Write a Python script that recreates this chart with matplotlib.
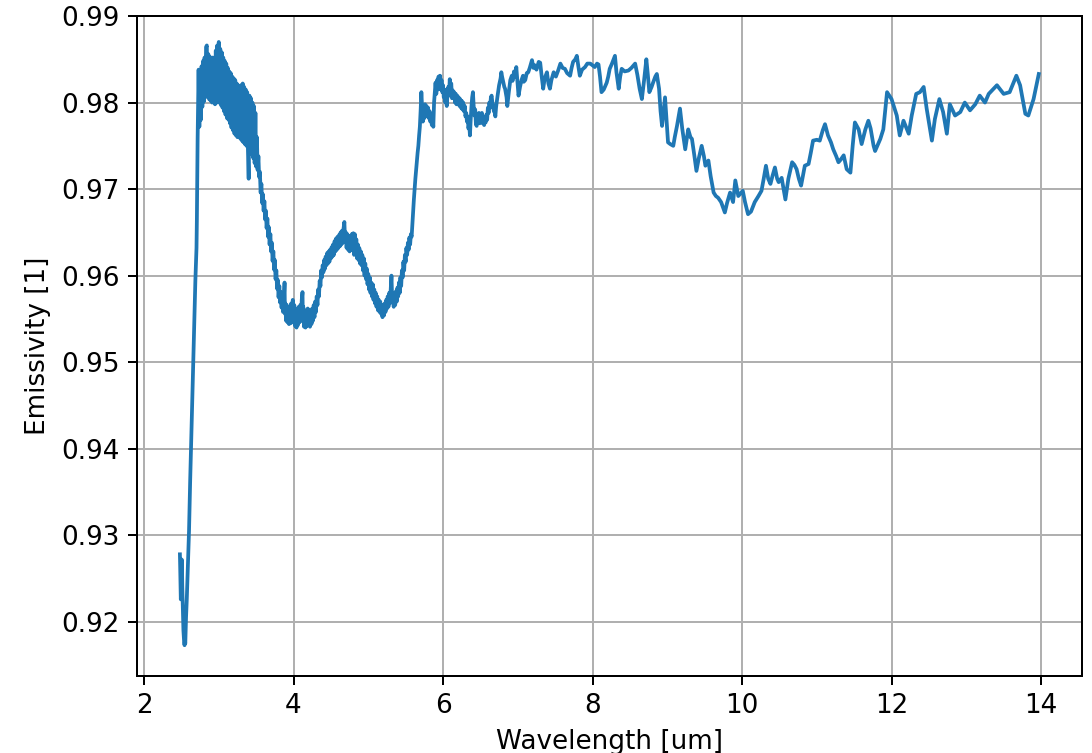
import matplotlib
matplotlib.use("Agg")
import matplotlib.pyplot as plt
import numpy as np

# Emissivity spectrum, split into wavelength ranges [um]
wl_rise = [2.480, 2.484, 2.488, 2.492, 2.496, 2.500, 2.504, 2.508, 2.512, 2.517,
           2.522, 2.527, 2.532, 2.537, 2.542, 2.547, 2.552, 2.557, 2.562, 2.567,
           2.572, 2.577, 2.582, 2.587, 2.592, 2.597, 2.602, 2.607, 2.612, 2.617,
           2.622, 2.627, 2.632, 2.637, 2.642, 2.647, 2.652, 2.657, 2.662, 2.667,
           2.672, 2.677, 2.682, 2.687, 2.692, 2.697, 2.702, 2.707, 2.712, 2.717,
           2.722, 2.726]
em_rise = [0.9278, 0.9262, 0.9240, 0.9226, 0.9232, 0.9255, 0.9272, 0.9262, 0.9240, 0.9222,
           0.9205, 0.9190, 0.9182, 0.9176, 0.9173, 0.9178, 0.9175, 0.9190, 0.9205, 0.9215,
           0.9226, 0.9240, 0.9255, 0.9268, 0.9280, 0.9292, 0.9305, 0.9325, 0.9345, 0.9362,
           0.9378, 0.9390, 0.9408, 0.9425, 0.9442, 0.9460, 0.9478, 0.9495, 0.9512, 0.9530,
           0.9548, 0.9565, 0.9580, 0.9595, 0.9608, 0.9620, 0.9632, 0.9665, 0.9712, 0.9758,
           0.9790, 0.9815]

wl_peak = [2.73, 2.74, 2.75, 2.76, 2.77, 2.78, 2.79, 2.80, 2.81, 2.82,
           2.83, 2.84, 2.85, 2.86, 2.87, 2.88, 2.89, 2.90, 2.91, 2.92,
           2.93, 2.94, 2.95, 2.96, 2.97, 2.98, 2.99, 3.00, 3.01, 3.02,
           3.03, 3.04, 3.05, 3.06, 3.07, 3.08, 3.09, 3.10, 3.11, 3.12,
           3.13, 3.14, 3.15, 3.16, 3.17, 3.18, 3.19, 3.20, 3.21, 3.22,
           3.23, 3.24, 3.25, 3.26, 3.27, 3.28, 3.29, 3.30, 3.31, 3.32,
           3.33, 3.34, 3.35, 3.36, 3.37, 3.38, 3.39, 3.40, 3.41, 3.42,
           3.43, 3.44, 3.45, 3.46, 3.47, 3.48, 3.49, 3.50, 3.51, 3.52]
em_peak = [0.9838, 0.9772, 0.9828, 0.9780, 0.9842, 0.9795, 0.9848, 0.9801, 0.9852, 0.9806,
           0.9864, 0.9866, 0.9808, 0.9856, 0.9804, 0.9853, 0.9802, 0.9850, 0.9800, 0.9852,
           0.9805, 0.9850, 0.9798, 0.9860, 0.9806, 0.9866, 0.9800, 0.9870, 0.9802, 0.9862,
           0.9797, 0.9858, 0.9794, 0.9852, 0.9790, 0.9848, 0.9786, 0.9845, 0.9782, 0.9840,
           0.9780, 0.9836, 0.9776, 0.9834, 0.9771, 0.9830, 0.9768, 0.9828, 0.9764, 0.9826,
           0.9762, 0.9822, 0.9760, 0.9820, 0.9762, 0.9818, 0.9758, 0.9820, 0.9756, 0.9822,
           0.9754, 0.9818, 0.9752, 0.9815, 0.9750, 0.9812, 0.9746, 0.9712, 0.9808, 0.9744,
           0.9805, 0.9740, 0.9800, 0.9736, 0.9796, 0.9730, 0.9788, 0.9726, 0.9760, 0.9722]

wl_trough = [3.53, 3.54, 3.55, 3.56, 3.57, 3.58, 3.59, 3.60, 3.61, 3.62,
             3.63, 3.64, 3.65, 3.66, 3.67, 3.68, 3.69, 3.70, 3.71, 3.72,
             3.73, 3.74, 3.75, 3.76, 3.77, 3.78, 3.79, 3.80, 3.81, 3.82,
             3.83, 3.84, 3.85, 3.86, 3.87, 3.88, 3.885, 3.89, 3.90, 3.91,
             3.92, 3.93, 3.94, 3.95, 3.96, 3.97, 3.98, 3.99, 4.00, 4.01,
             4.02, 4.03, 4.04, 4.05, 4.06, 4.07, 4.08, 4.09, 4.10, 4.11,
             4.12, 4.125, 4.13, 4.14, 4.15, 4.16, 4.17, 4.18, 4.19, 4.20,
             4.21, 4.22, 4.23, 4.24, 4.25, 4.26, 4.27, 4.28, 4.29, 4.30,
             4.31, 4.32, 4.33, 4.34, 4.35, 4.36, 4.37, 4.38, 4.39, 4.40,
             4.41, 4.42, 4.43, 4.44, 4.45, 4.46, 4.47, 4.48, 4.49, 4.50,
             4.51, 4.52, 4.53, 4.54, 4.55, 4.56, 4.57, 4.58, 4.59, 4.60,
             4.61, 4.62, 4.63, 4.64, 4.65, 4.66, 4.67, 4.68, 4.69, 4.70,
             4.71, 4.72, 4.73, 4.74, 4.75, 4.76, 4.77, 4.78, 4.79, 4.80,
             4.81, 4.82, 4.83, 4.84, 4.85, 4.86, 4.87, 4.88, 4.89, 4.90,
             4.91, 4.92, 4.93, 4.94, 4.95, 4.96, 4.97, 4.98, 4.99, 5.00,
             5.01, 5.02, 5.03, 5.04, 5.05, 5.06, 5.07, 5.08, 5.09, 5.10,
             5.11, 5.12, 5.13, 5.14, 5.15, 5.16, 5.17, 5.18, 5.19, 5.20,
             5.21, 5.22, 5.23, 5.24, 5.25, 5.26, 5.27, 5.28, 5.29, 5.30,
             5.31, 5.32, 5.33, 5.34, 5.35, 5.36, 5.37, 5.38, 5.39, 5.40,
             5.41, 5.42, 5.43, 5.44, 5.45, 5.46, 5.47, 5.48, 5.49, 5.50,
             5.51, 5.52, 5.53, 5.54, 5.55, 5.56, 5.57, 5.58, 5.59, 5.60,
             5.61, 5.62, 5.63, 5.64, 5.65, 5.66, 5.67, 5.68, 5.69, 5.70,
             5.71, 5.72]
em_trough = [0.9738, 0.9714, 0.9720, 0.9696, 0.9706, 0.9684, 0.9694, 0.9675, 0.9686, 0.9665,
             0.9675, 0.9655, 0.9666, 0.9645, 0.9656, 0.9636, 0.9648, 0.9628, 0.9638, 0.9617,
             0.9628, 0.9607, 0.9618, 0.9596, 0.9606, 0.9585, 0.9595, 0.9575, 0.9588, 0.9569,
             0.9581, 0.9563, 0.9575, 0.9558, 0.9572, 0.9592, 0.9556, 0.9568, 0.9548, 0.9566,
             0.9546, 0.9564, 0.9544, 0.9562, 0.9545, 0.9568, 0.9546, 0.9572, 0.9548, 0.9566,
             0.9542, 0.9562, 0.9540, 0.9560, 0.9543, 0.9564, 0.9546, 0.9566, 0.9548, 0.9572,
             0.9581, 0.9550, 0.9564, 0.9541, 0.9560, 0.9540, 0.9558, 0.9542, 0.9562, 0.9544,
             0.9560, 0.9541, 0.9558, 0.9544, 0.9562, 0.9548, 0.9566, 0.9552, 0.9570, 0.9558,
             0.9576, 0.9566, 0.9584, 0.9576, 0.9594, 0.9588, 0.9606, 0.9598, 0.9612, 0.9604,
             0.9618, 0.9608, 0.9622, 0.9612, 0.9626, 0.9614, 0.9628, 0.9616, 0.9630, 0.9620,
             0.9633, 0.9622, 0.9636, 0.9624, 0.9640, 0.9628, 0.9643, 0.9630, 0.9645, 0.9632,
             0.9647, 0.9634, 0.9650, 0.9636, 0.9652, 0.9638, 0.9655, 0.9662, 0.9640, 0.9650,
             0.9632, 0.9648, 0.9630, 0.9646, 0.9628, 0.9645, 0.9630, 0.9648, 0.9632, 0.9649,
             0.9624, 0.9648, 0.9628, 0.9642, 0.9620, 0.9636, 0.9618, 0.9632, 0.9614, 0.9628,
             0.9612, 0.9624, 0.9606, 0.9620, 0.9600, 0.9614, 0.9596, 0.9608, 0.9590, 0.9602,
             0.9584, 0.9598, 0.9580, 0.9592, 0.9576, 0.9590, 0.9572, 0.9584, 0.9568, 0.9580,
             0.9564, 0.9576, 0.9560, 0.9572, 0.9558, 0.9570, 0.9556, 0.9566, 0.9552, 0.9564,
             0.9554, 0.9568, 0.9558, 0.9572, 0.9562, 0.9576, 0.9564, 0.9580, 0.9568, 0.9584,
             0.9600, 0.9572, 0.9580, 0.9564, 0.9576, 0.9566, 0.9582, 0.9570, 0.9586, 0.9576,
             0.9592, 0.9580, 0.9598, 0.9588, 0.9606, 0.9598, 0.9616, 0.9606, 0.9624, 0.9616,
             0.9632, 0.9624, 0.9638, 0.9630, 0.9644, 0.9636, 0.9648, 0.9645, 0.9660, 0.9675,
             0.9688, 0.9700, 0.9712, 0.9722, 0.9732, 0.9742, 0.9750, 0.9762, 0.9772, 0.9790,
             0.9812, 0.9795]

wl_plateau = [5.73, 5.74, 5.75, 5.76, 5.77, 5.78, 5.79, 5.80, 5.81, 5.82,
              5.83, 5.84, 5.85, 5.86, 5.87, 5.88, 5.89, 5.90, 5.91, 5.92,
              5.93, 5.94, 5.95, 5.96, 5.97, 5.98, 5.99, 6.00, 6.01, 6.02,
              6.03, 6.04, 6.05, 6.06, 6.07, 6.08, 6.09, 6.10, 6.11, 6.12,
              6.13, 6.14, 6.15, 6.16, 6.17, 6.18, 6.19, 6.20, 6.21, 6.22,
              6.23, 6.24, 6.25, 6.26, 6.27, 6.28, 6.29, 6.30, 6.31, 6.32,
              6.33, 6.34, 6.35, 6.36, 6.37, 6.38, 6.39, 6.40, 6.41, 6.42,
              6.43, 6.44, 6.45, 6.46, 6.47, 6.48, 6.49, 6.50, 6.51, 6.52,
              6.53, 6.54, 6.55, 6.56, 6.57, 6.58, 6.59, 6.60, 6.61, 6.62,
              6.63, 6.64, 6.65, 6.66, 6.67, 6.68, 6.69, 6.70, 6.71, 6.72,
              6.73, 6.74, 6.75, 6.77, 6.78, 6.79, 6.80, 6.82, 6.83, 6.85,
              6.86, 6.88, 6.90, 6.92, 6.93, 6.95, 6.97, 6.98, 7.00, 7.01,
              7.03, 7.05, 7.07, 7.08, 7.10, 7.12, 7.14, 7.16, 7.19, 7.21,
              7.23, 7.25, 7.28, 7.30, 7.32, 7.34, 7.36, 7.39, 7.41, 7.43,
              7.45, 7.48, 7.51, 7.54, 7.57, 7.60, 7.63, 7.66, 7.70, 7.72,
              7.74, 7.77, 7.79, 7.81, 7.83, 7.86, 7.90, 7.93, 7.97, 8.00,
              8.03, 8.06, 8.08, 8.10, 8.12, 8.15, 8.19, 8.21, 8.23, 8.26,
              8.30, 8.32, 8.35, 8.37, 8.39, 8.43, 8.48, 8.52, 8.57, 8.60,
              8.63, 8.66, 8.69, 8.72, 8.74, 8.76, 8.79, 8.81, 8.84, 8.86,
              8.89]
em_plateau = [0.9778, 0.9790, 0.9782, 0.9798, 0.9786, 0.9796, 0.9784, 0.9794, 0.9782, 0.9790,
              0.9778, 0.9786, 0.9774, 0.9782, 0.9772, 0.9800, 0.9812, 0.9823, 0.9810, 0.9826,
              0.9815, 0.9830, 0.9818, 0.9831, 0.9815, 0.9826, 0.9812, 0.9820, 0.9806, 0.9815,
              0.9800, 0.9808, 0.9796, 0.9810, 0.9818, 0.9808, 0.9827, 0.9815, 0.9822, 0.9805,
              0.9814, 0.9806, 0.9812, 0.9800, 0.9810, 0.9798, 0.9808, 0.9802, 0.9806, 0.9796,
              0.9804, 0.9794, 0.9802, 0.9792, 0.9800, 0.9790, 0.9796, 0.9784, 0.9788, 0.9778,
              0.9784, 0.9770, 0.9776, 0.9762, 0.9780, 0.9795, 0.9806, 0.9812, 0.9796, 0.9785,
              0.9792, 0.9775, 0.9773, 0.9786, 0.9778, 0.9788, 0.9776, 0.9785, 0.9780, 0.9788,
              0.9776, 0.9784, 0.9774, 0.9782, 0.9777, 0.9786, 0.9780, 0.9794, 0.9788, 0.9800,
              0.9794, 0.9806, 0.9808, 0.9800, 0.9796, 0.9790, 0.9789, 0.9784, 0.9795, 0.9802,
              0.9808, 0.9814, 0.9820, 0.9828, 0.9835, 0.9830, 0.9826, 0.9818, 0.9816, 0.9806,
              0.9796, 0.9812, 0.9826, 0.9831, 0.9825, 0.9836, 0.9830, 0.9841, 0.9820, 0.9808,
              0.9818, 0.9826, 0.9831, 0.9824, 0.9826, 0.9834, 0.9835, 0.9840, 0.9849, 0.9840,
              0.9843, 0.9838, 0.9847, 0.9846, 0.9830, 0.9816, 0.9828, 0.9835, 0.9822, 0.9816,
              0.9826, 0.9835, 0.9830, 0.9837, 0.9845, 0.9840, 0.9839, 0.9834, 0.9831, 0.9840,
              0.9847, 0.9850, 0.9854, 0.9842, 0.9831, 0.9838, 0.9841, 0.9845, 0.9845, 0.9843,
              0.9841, 0.9845, 0.9844, 0.9830, 0.9812, 0.9815, 0.9823, 0.9830, 0.9839, 0.9845,
              0.9854, 0.9835, 0.9816, 0.9830, 0.9839, 0.9836, 0.9837, 0.9840, 0.9845, 0.9832,
              0.9816, 0.9804, 0.9826, 0.9850, 0.9832, 0.9812, 0.9818, 0.9823, 0.9830, 0.9833,
              0.9816]

wl_tail = [8.91, 8.93, 8.95, 8.97, 8.99, 9.01, 9.04, 9.08, 9.10, 9.13,
           9.17, 9.20, 9.24, 9.28, 9.31, 9.33, 9.36, 9.39, 9.42, 9.46,
           9.49, 9.51, 9.55, 9.58, 9.62, 9.65, 9.68, 9.72, 9.77, 9.80,
           9.84, 9.88, 9.91, 9.95, 9.98, 10.01, 10.04, 10.08, 10.12, 10.17,
           10.22, 10.26, 10.29, 10.32, 10.35, 10.38, 10.41, 10.44, 10.47, 10.49,
           10.53, 10.58, 10.62, 10.67, 10.70, 10.73, 10.76, 10.79, 10.82, 10.84,
           10.89, 10.92, 10.95, 11.00, 11.04, 11.08, 11.11, 11.15, 11.19, 11.22,
           11.26, 11.29, 11.32, 11.36, 11.40, 11.45, 11.48, 11.51, 11.56, 11.60,
           11.65, 11.69, 11.72, 11.76, 11.78, 11.81, 11.85, 11.89, 11.94, 12.00,
           12.07, 12.11, 12.16, 12.23, 12.27, 12.33, 12.38, 12.43, 12.47, 12.54,
           12.58, 12.64, 12.69, 12.74, 12.78, 12.85, 12.92, 12.98, 13.05, 13.12,
           13.18, 13.25, 13.30, 13.41, 13.50, 13.58, 13.67, 13.72, 13.79, 13.83,
           13.90, 13.97]
em_tail = [0.9790, 0.9773, 0.9790, 0.9806, 0.9780, 0.9754, 0.9752, 0.9750, 0.9760, 0.9773,
           0.9793, 0.9770, 0.9746, 0.9769, 0.9760, 0.9758, 0.9740, 0.9721, 0.9735, 0.9750,
           0.9738, 0.9727, 0.9733, 0.9715, 0.9696, 0.9692, 0.9690, 0.9685, 0.9673, 0.9684,
           0.9696, 0.9685, 0.9710, 0.9692, 0.9695, 0.9698, 0.9685, 0.9671, 0.9674, 0.9685,
           0.9692, 0.9698, 0.9712, 0.9727, 0.9712, 0.9706, 0.9716, 0.9725, 0.9712, 0.9708,
           0.9713, 0.9688, 0.9712, 0.9731, 0.9728, 0.9723, 0.9712, 0.9704, 0.9718, 0.9727,
           0.9729, 0.9742, 0.9756, 0.9757, 0.9756, 0.9768, 0.9775, 0.9762, 0.9754, 0.9746,
           0.9738, 0.9731, 0.9734, 0.9739, 0.9723, 0.9719, 0.9750, 0.9777, 0.9769, 0.9752,
           0.9769, 0.9779, 0.9770, 0.9750, 0.9744, 0.9750, 0.9758, 0.9769, 0.9812, 0.9804,
           0.9785, 0.9762, 0.9779, 0.9764, 0.9785, 0.9810, 0.9812, 0.9818, 0.9793, 0.9756,
           0.9781, 0.9804, 0.9789, 0.9764, 0.9798, 0.9785, 0.9789, 0.9800, 0.9791, 0.9798,
           0.9808, 0.9800, 0.9810, 0.9820, 0.9810, 0.9812, 0.9831, 0.9820, 0.9787, 0.9785,
           0.9804, 0.9833]

wavelength = np.concatenate([wl_rise, wl_peak, wl_trough, wl_plateau, wl_tail])
emissivity = np.concatenate([em_rise, em_peak, em_trough, em_plateau, em_tail])

plt.rcParams["font.size"] = 10.5

fig = plt.figure(figsize=(1092 / 180, 753 / 180), dpi=180)
ax = fig.add_axes([137 / 1092, 1 - 675.5 / 753, (1082 - 137) / 1092, (675.5 - 16) / 753])
ax.plot(wavelength, emissivity, color="#1f77b4", linewidth=1.5)
ax.set_xlim(1.906, 14.548)
ax.set_ylim(0.9138, 0.99)
ax.set_xticks([2, 4, 6, 8, 10, 12, 14])
ax.set_yticks([0.92, 0.93, 0.94, 0.95, 0.96, 0.97, 0.98, 0.99])
ax.grid(True)
ax.set_xlabel("Wavelength [um]")
ax.set_ylabel("Emissivity [1]")
fig.savefig("out.png", dpi=180)
